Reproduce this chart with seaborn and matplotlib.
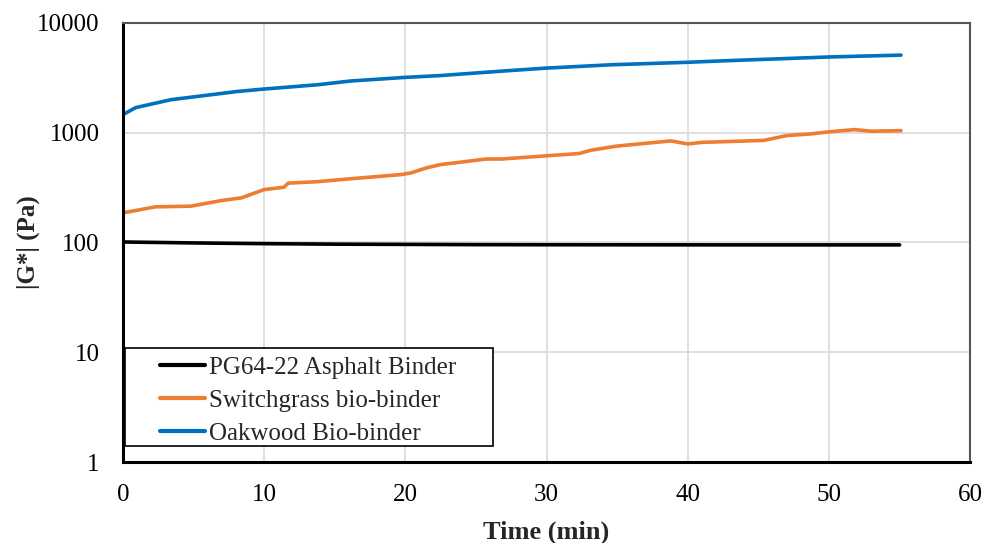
import matplotlib
matplotlib.use("Agg")
import matplotlib.pyplot as plt
from matplotlib.patches import Rectangle
import seaborn as sns
import pandas as pd

# Data
pg_time = [0, 5, 10, 15, 20, 25, 30, 35, 40, 45, 50, 55]
pg_values = [101, 99, 97.5, 96.5, 96, 95.5, 95.3, 95.2, 95.1, 95, 95, 95]

sw_time = [0, 2.3, 4.8, 7.0, 8.4, 10.0, 11.4, 11.7, 13.7, 16.1, 19.7, 20.4, 21.5, 22.5,
           24.0, 25.7, 26.8, 29.6, 32.3, 33.1, 34.9, 37.3, 38.8, 40.0, 41.0, 45.4,
           47.0, 48.7, 50.1, 51.8, 53.0, 55.1]
sw_values = [186, 211, 214, 241, 255, 303, 318, 347, 357, 380, 415, 430, 478, 512,
             540, 575, 575, 610, 645, 690, 752, 806, 840, 789, 815, 850,
             940, 973, 1020, 1065, 1030, 1042]

oak_time = [0, 0.9, 3.4, 8.1, 10.0, 13.8, 16.1, 20.0, 22.5, 26.8, 30.0, 34.6,
            40.0, 42.8, 49.9, 55.1]
oak_values = [1460, 1690, 1995, 2370, 2495, 2730, 2950, 3185, 3310, 3630, 3870, 4150,
              4370, 4520, 4880, 5080]

labels = ["PG64-22 Asphalt Binder", "Switchgrass bio-binder", "Oakwood Bio-binder"]
colors = ["#000000", "#ED7D31", "#0070C0"]

x_ticks = [0, 10, 20, 30, 40, 50, 60]
y_ticks = [1, 10, 100, 1000, 10000]
y_tick_labels = ["1", "10", "100", "1000", "10000"]

df = pd.concat([
    pd.DataFrame({"Time": pg_time, "G": pg_values, "Binder": labels[0]}),
    pd.DataFrame({"Time": sw_time, "G": sw_values, "Binder": labels[1]}),
    pd.DataFrame({"Time": oak_time, "G": oak_values, "Binder": labels[2]}),
])

sns.set_theme(style="white")
plt.rcParams["font.family"] = ["Liberation Serif", "DejaVu Serif"]

fig = plt.figure(figsize=(9.84, 5.43), dpi=100)
ax = fig.add_axes([0.125, 0.149, 0.861, 0.809])

sns.lineplot(data=df, x="Time", y="G", hue="Binder", hue_order=labels,
             palette=colors, linewidth=2.6, ax=ax, estimator=None, sort=True)

ax.set_yscale("log")
ax.set_ylim(1, 10000)
ax.set_xlim(0, 60)
ax.set_xticks(x_ticks)
ax.set_xticklabels([str(t) for t in x_ticks])
ax.set_yticks(y_ticks)
ax.set_yticklabels(y_tick_labels)
ax.yaxis.set_minor_locator(matplotlib.ticker.NullLocator())

ax.grid(True, color="#d9d9d9", linewidth=1.2)
ax.set_axisbelow(True)

for s in ["left", "bottom"]:
    ax.spines[s].set_color("black")
    ax.spines[s].set_linewidth(2.2)
for s in ["top", "right"]:
    ax.spines[s].set_color("#555555")
    ax.spines[s].set_linewidth(1.5)

ax.tick_params(axis="both", which="both", length=0, labelsize=18, colors="black")
ax.tick_params(axis="y", pad=17)
ax.tick_params(axis="x", pad=16)

ax.set_xlabel("Time (min)", fontsize=19, fontweight="bold", labelpad=10)
ax.set_ylabel("|G*| (Pa)", fontsize=18, fontweight="bold")
ax.yaxis.set_label_coords(-0.098, 0.5)

# legend frame drawn as a rectangle (wider left margin like the reference)
ax.add_patch(Rectangle((0.0024, 0.0364), 0.4345, 0.223, transform=ax.transAxes,
                       facecolor="white", edgecolor="black", linewidth=1.2, zorder=5))
leg = ax.legend(loc="upper left", bbox_to_anchor=(0.0437, 0.24), fontsize=18,
                frameon=False, handlelength=1.8, handletextpad=0.15, borderpad=0,
                labelspacing=0.42, borderaxespad=0)
leg.set_zorder(6)
for line in leg.get_lines():
    line.set_linewidth(3)

fig.savefig("out.png", dpi=100)
